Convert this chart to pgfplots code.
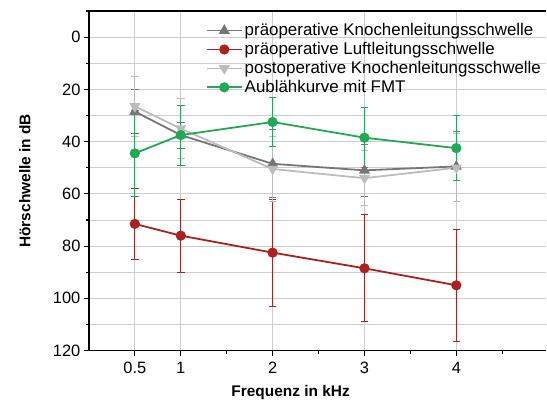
\documentclass[border=0pt]{standalone}
\usepackage{pgfplots}
\pgfplotsset{compat=1.18}
\usepackage{fontspec}
\setmainfont{Liberation Sans}
\setsansfont{Liberation Sans}
\definecolor{kldark}{RGB}{118,118,118}
\definecolor{kllight}{RGB}{188,188,188}
\definecolor{llred}{RGB}{172,32,32}
\definecolor{fmtgreen}{RGB}{32,170,85}
\definecolor{gridgray}{RGB}{205,205,205}

\begin{document}
\begin{tikzpicture}
\begin{axis}[
    scale only axis,
    width=458bp, height=340bp,
    xmin=0, xmax=4.98,
    ymin=-10, ymax=120,
    y dir=reverse,
    axis x line*=box,
    axis y line*=left,
    axis line style={line width=1.3pt, -},
    xtick={0.5,1,2,3,4},
    xticklabels={0.5,1,2,3,4},
    minor xtick={1.5,2.5,3.5,4.5},
    xtick pos=bottom,
    ytick={0,20,...,120},
    minor ytick={-10,10,30,...,110},
    tick align=outside,
    major tick length=5bp,
    minor tick length=3bp,
    tick style={line width=1.1pt, black},
    xmajorgrids, ymajorgrids, yminorgrids,
    major grid style={gridgray, line width=0.9pt},
    minor grid style={gridgray, line width=0.9pt},
    ticklabel style={font=\fontsize{16.5}{18}\selectfont},
    xticklabel style={yshift=-3bp},
    /pgf/number format/assume math mode=true,
    xlabel={\textbf{Frequenz in kHz}},
    ylabel={\textbf{Hörschwelle in dB}},
    label style={font=\fontsize{15.5}{18}\selectfont},
    xlabel style={at={(axis description cs:0.441,-0.124)}, anchor=center},
    ylabel style={at={(axis description cs:-0.14,0.5)}, anchor=center},
    legend style={at={(axis description cs:0.253,0.972)}, anchor=north west,
        draw=none, fill=none, font=\fontsize{17}{18}\selectfont,
        row sep=1.2bp, inner sep=1bp},
    legend cell align=left,
    legend image code/.code={\draw[mark repeat=2,mark phase=2] plot coordinates {(0cm,0cm)(0.62cm,0cm)(1.24cm,0cm)};},
    clip=false,
    every axis plot/.append style={line width=1.8pt},
    error bars/error bar style={line width=1pt},
    error bars/error mark options={rotate=90, mark size=3.8bp, line width=1pt},
]
\addplot[kldark, mark=triangle*, mark size=4.6bp, mark options={solid},
    error bars/.cd, y dir=both, y explicit] coordinates {
    (0.5,28.5) +- (0,8.5)
    (1,37.5) +- (0,5)
    (2,48.5) +- (0,13)
    (3,51) +- (0,10)
    (4,49.5) +- (0,13.5)
};
\addlegendentry{präoperative Knochenleitungsschwelle}
\addplot[llred, mark=*, mark size=4.2bp,
    error bars/.cd, y dir=both, y explicit] coordinates {
    (0.5,71.5) +- (0,13.5)
    (1,76) +- (0,14)
    (2,82.5) +- (0,20.5)
    (3,88.5) +- (0,20.5)
    (4,95) +- (0,21.5)
};
\addlegendentry{präoperative Luftleitungsschwelle}
\addplot[kllight, mark=triangle*, mark size=4.6bp, mark options={rotate=180},
    error bars/.cd, y dir=both, y explicit] coordinates {
    (0.5,26.5) +- (0,11.5)
    (1,35) +- (0,11.5)
    (2,50.5) +- (0,12.5)
    (3,54) +- (0,10.5)
    (4,50) +- (0,13)
};
\addlegendentry{postoperative Knochenleitungsschwelle}
\addplot[fmtgreen, mark=*, mark size=4.2bp,
    error bars/.cd, y dir=both, y explicit] coordinates {
    (0.5,44.5) +- (0,16.5)
    (1,37.5) +- (0,11.5)
    (2,32.5) +- (0,9.5)
    (3,38.5) +- (0,11.5)
    (4,42.5) +- (0,12.5)
};
\addlegendentry{Aublähkurve mit FMT}
\path (rel axis cs:0,0) ++(-89bp,-55bp) coordinate (bbA);
\path (rel axis cs:1,1) ++(0bp,11bp) coordinate (bbB);
\path (bbA) rectangle (bbB);
\end{axis}
\end{tikzpicture}
\end{document}
